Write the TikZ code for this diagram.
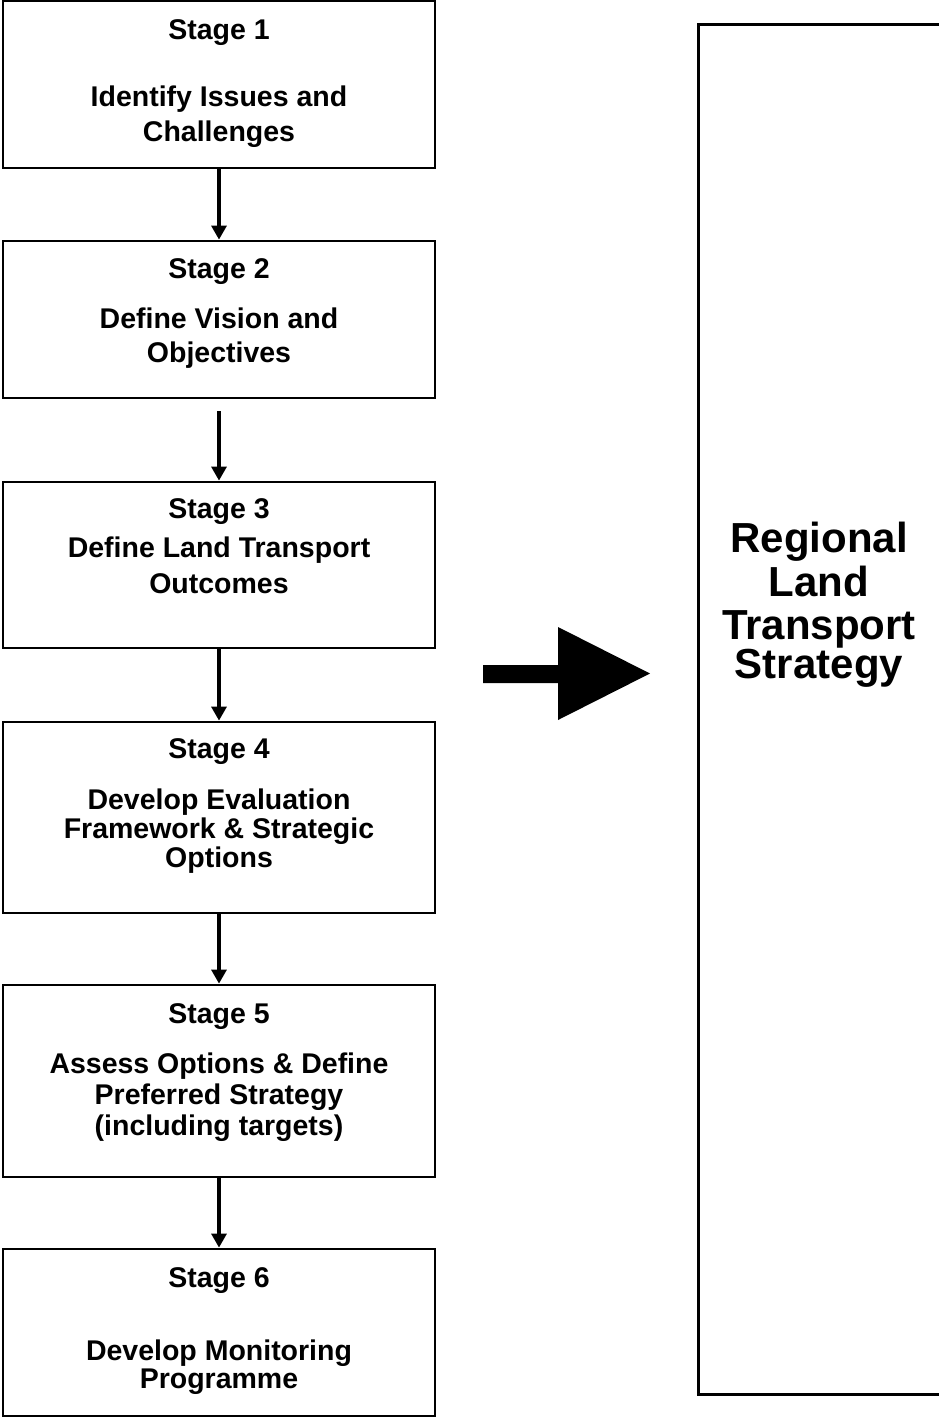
\documentclass[tikz,border=0pt]{standalone}
\usepackage{fontspec}
\setmainfont{Liberation Sans}
\usetikzlibrary{arrows.meta}
\begin{document}
\begin{tikzpicture}[x=1pt,y=-1pt,
  stagebox/.style={draw, line width=2.8pt, inner sep=0pt, minimum width=432pt},
  stxt/.style={anchor=base, font=\fontsize{28.5}{28.5}\selectfont\bfseries, inner sep=0pt},
  bigtxt/.style={anchor=base, font=\fontsize{42}{42}\selectfont\bfseries, inner sep=0pt},
  flow/.style={line width=3.2pt, -{Triangle[width=15pt,length=14pt]}}]
\useasboundingbox (0,0) rectangle (938,1418);
% stage boxes
\node[stagebox, minimum height=167pt] (s1) at (219,84.5) {};
\node[stagebox, minimum height=157pt] (s2) at (219,319.5) {};
\node[stagebox, minimum height=166pt] (s3) at (219,565) {};
\node[stagebox, minimum height=191pt] (s4) at (219,817.5) {};
\node[stagebox, minimum height=192pt] (s5) at (219,1081) {};
\node[stagebox, minimum height=167pt] (s6) at (219,1332.5) {};
% texts
\node[stxt] (t1a) at (219,40) {Stage 1};
\node[stxt] (t1b) at (219,107) {Identify Issues and};
\node[stxt] (t1c) at (219,142) {Challenges};
\node[stxt] (t2a) at (219,278) {Stage 2};
\node[stxt] (t2b) at (219,328) {Define Vision and};
\node[stxt] (t2c) at (219,362) {Objectives};
\node[stxt] (t3a) at (219,518) {Stage 3};
\node[stxt] (t3b) at (219,557) {Define Land Transport};
\node[stxt] (t3c) at (219,593) {Outcomes};
\node[stxt] (t4a) at (219,758) {Stage 4};
\node[stxt] (t4b) at (219,809) {Develop Evaluation};
\node[stxt] (t4c) at (219,838) {Framework \& Strategic};
\node[stxt] (t4d) at (219,867) {Options};
\node[stxt] (t5a) at (219,1023) {Stage 5};
\node[stxt] (t5b) at (219,1073) {Assess Options \& Define};
\node[stxt] (t5c) at (219,1104) {Preferred Strategy};
\node[stxt] (t5d) at (219,1135) {(including targets)};
\node[stxt] (t6a) at (219,1287) {Stage 6};
\node[stxt] (t6b) at (219,1360) {Develop Monitoring};
\node[stxt] (t6c) at (219,1388) {Programme};
% connectors
\draw[flow] (s1.south) -- (s2.north);
\draw[flow, shorten <=12pt] (s2.south) -- (s3.north);
\draw[flow] (s3.south) -- (s4.north);
\draw[flow] (s4.south) -- (s5.north);
\draw[flow] (s5.south) -- (s6.north);
% right box
\node[draw, line width=3pt, inner sep=0pt, minimum width=245pt, minimum height=1369pt] (rlts) at (820.5,709.5) {};
\node[bigtxt] (r1) at (819,552) {Regional};
\node[bigtxt] (r2) at (819,596) {Land};
\node[bigtxt] (r3) at (819,639) {Transport};
\node[bigtxt] (r4) at (819,678) {Strategy};
% big arrow
\fill (483,665) -- (558,665) -- (558,627) -- (650,673.5) -- (558,720) -- (558,683) -- (483,683) -- cycle;
\end{tikzpicture}
\end{document}
